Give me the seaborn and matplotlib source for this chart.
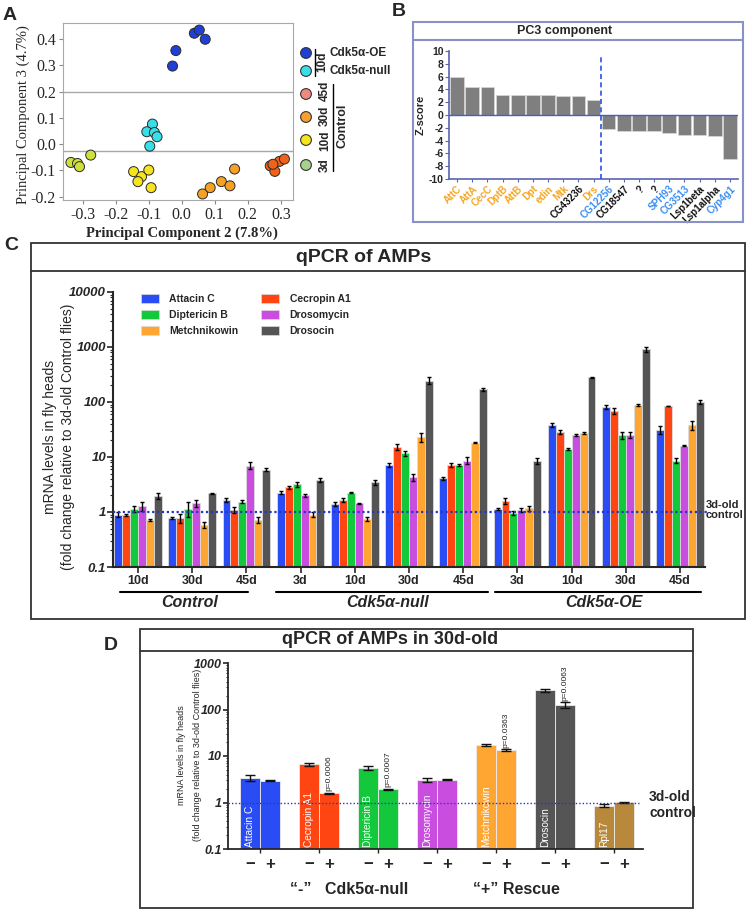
import numpy as np
import pandas as pd
import matplotlib
matplotlib.use("Agg")
import matplotlib.pyplot as plt
from matplotlib.patches import Rectangle, Patch
import seaborn as sns

#Data####################################################################################

#A: PCA scores per sample
pca_group = (["Cdk5α-OE"] * 5 + ["Cdk5α-null"] * 5 + ["3d"] * 4 +
             ["10d"] * 5 + ["30d"] * 5 + ["45d"] * 5)
pc2 = [-0.028, -0.018, 0.038, 0.053, 0.071,
       -0.089, -0.106, -0.083, -0.075, -0.097,
       -0.336, -0.316, -0.310, -0.276,
       -0.146, -0.122, -0.100, -0.133, -0.093,
       0.063, 0.086, 0.120, 0.146, 0.160,
       0.268, 0.282, 0.296, 0.311, 0.276]
pc3 = [0.297, 0.356, 0.422, 0.434, 0.399,
       0.076, 0.047, 0.044, 0.028, -0.008,
       -0.070, -0.074, -0.086, -0.042,
       -0.105, -0.124, -0.099, -0.143, -0.166,
       -0.190, -0.166, -0.143, -0.159, -0.095,
       -0.083, -0.104, -0.066, -0.057, -0.077]
pca_xticks = [-0.3, -0.2, -0.1, 0.0, 0.1, 0.2, 0.3]
pca_yticks = [-0.2, -0.1, 0.0, 0.1, 0.2, 0.3, 0.4]
pca_legend_labels = ["45d", "30d", "10d", "3d"]

#B: PC3 loadings
pc3_genes = ["AttC", "AttA", "CecC", "DptB", "AttB", "Dpt", "edin", "Mtk", "CG43236", "Drs",
             "CG12256", "CG18547", "?", "?", "SPH93", "CG3513", "Lsp1beta", "Lsp1alpha", "Cyp4g1"]
pc3_z = [6.0, 4.3, 4.3, 3.2, 3.1, 3.1, 3.1, 3.0, 2.9, 2.4,
         -2.2, -2.5, -2.55, -2.55, -2.8, -3.05, -3.1, -3.3, -6.95]
pc3_kind = ["amp"] * 8 + ["other", "amp", "blue", "other", "other", "other",
                          "blue", "blue", "other", "other", "blue"]

#C: qPCR of AMPs, fold change
c_conditions = ["Control 10d", "Control 30d", "Control 45d",
                "null 3d", "null 10d", "null 30d", "null 45d",
                "OE 3d", "OE 10d", "OE 30d", "OE 45d"]
c_ticklabels = ["10d", "30d", "45d", "3d", "10d", "30d", "45d", "3d", "10d", "30d", "45d"]
c_groups = ["Control", "Cdk5α-null", "Cdk5α-OE"]
amp_genes = ["Attacin C", "Cecropin A1", "Diptericin B", "Drosomycin", "Metchnikowin", "Drosocin"]
attacin_c = [0.9, 0.78, 1.65, 2.25, 1.4, 7.2, 4.1, 1.13, 38, 82, 31]
cecropin_a1 = [0.87, 0.78, 1.1, 2.8, 1.65, 15.4, 7.2, 1.6, 28.8, 69, 84.5]
diptericin_b = [1.15, 1.15, 1.55, 3.2, 2.25, 11.7, 7.3, 0.97, 14, 25, 8.6]
drosomycin = [1.3, 1.45, 7.0, 2.0, 1.45, 4.3, 8.6, 1.1, 25, 25.5, 16]
metchnikowin = [0.72, 0.59, 0.72, 0.9, 0.75, 22.8, 18.2, 1.18, 27.5, 87, 38]
drosocin = [1.95, 2.2, 5.9, 3.8, 3.5, 244, 170, 8.6, 280, 908, 101]
attacin_c_err = [0.1, 0.02, 0.15, 0.15, 0.1, 0.5, 0.3, 0.03, 3, 8, 5]
cecropin_a1_err = [0.04, 0.15, 0.15, 0.2, 0.15, 1.8, 0.6, 0.2, 2.5, 8, 1]
diptericin_b_err = [0.15, 0.35, 0.12, 0.35, 0.05, 1.2, 0.3, 0.08, 0.5, 4, 0.8]
drosomycin_err = [0.25, 0.2, 1.0, 0.15, 0.03, 0.7, 1.2, 0.1, 1, 3, 0.4]
metchnikowin_err = [0.02, 0.07, 0.1, 0.08, 0.05, 4, 0.6, 0.12, 1, 4, 7]
drosocin_err = [0.25, 0.05, 0.35, 0.35, 0.35, 35, 12, 1.0, 8, 80, 10]

#D: 30d-old null vs rescue
d_genes = ["Attacin C", "Cecropin A1", "Diptericin B", "Drosomycin", "Metchnikowin", "Drosocin", "Rpl17"]
d_conditions = ["null", "rescue"]
d_signs = ["−", "+"]
d_null = [3.4, 6.6, 5.6, 3.05, 17.3, 262, 0.85]
d_rescue = [2.95, 1.58, 1.95, 3.1, 13.5, 125, 1.01]
d_null_err = [0.45, 0.6, 0.5, 0.35, 1.2, 20, 0.06]
d_rescue_err = [0.08, 0.05, 0.05, 0.05, 0.4, 18, 0.02]
d_pvalues = ["", "p=0.0006", "p=0.0007", "", "p=0.0363", "p=0.0063", ""]

#Colours#################################################################################
pca_colors = {"Cdk5α-OE": "#1f3fd6", "Cdk5α-null": "#38dfe8", "3d": "#cfe03a",
              "10d": "#f6e41f", "30d": "#f5a224", "45d": "#f0621a"}
pca_legend_colors = ["#1f3fd6", "#38dfe8", "#f08a80", "#f5a030", "#f6e41f", "#a9d18e"]
amp_colors = ["#2a4cf5", "#ff4512", "#14c83c", "#c94ee0", "#ffa531", "#555555"]
d_colors = amp_colors[:4] + ["#ffa531", "#555555", "#b8893a"]
kind_colors = {"amp": "#f5a623", "other": "#111111", "blue": "#3a8ef0"}

#Figure setup#############################################################################
sns.set_style("ticks")
plt.rcParams["font.family"] = ["Liberation Sans", "DejaVu Sans"]
plt.rcParams["axes.unicode_minus"] = False

W, H = 750, 913
fig = plt.figure(figsize=(W / 100, H / 100), dpi=100)

def box(l, t, r, b):
    #pixel box -> figure fraction rect
    return [l / W, 1 - b / H, (r - l) / W, (b - t) / H]

#Panel A###################################################################################
axA = fig.add_axes(box(63, 23, 293, 200))
pca_df = pd.DataFrame({"pc2": pc2, "pc3": pc3, "group": pca_group})
sns.scatterplot(data=pca_df, x="pc2", y="pc3", hue="group", palette=pca_colors, s=52,
                edgecolor="#2b2b2b", linewidth=0.7, legend=False, ax=axA, zorder=3)
axA.axhline(0.2, color="#a8a8a8", lw=1, zorder=1)
axA.axhline(-0.025, color="#a8a8a8", lw=1, zorder=1)
axA.set_xlim(-0.36, 0.337)
axA.set_ylim(-0.213, 0.461)
axA.set_xticks(pca_xticks)
axA.set_xticklabels([f"{v:.1f}" for v in pca_xticks])
axA.set_yticks(pca_yticks)
axA.set_yticklabels([f"{v:.1f}" for v in pca_yticks])
axA.tick_params(labelsize=11.5, labelfontfamily="Liberation Serif", color="#888888", length=3, pad=2)
axA.set_xlabel("")
axA.set_ylabel("")
for s in axA.spines.values():
    s.set_color("#a8a8a8")

#Panel B###################################################################################
axB = fig.add_axes(box(449, 51, 738, 179))
sns.barplot(x=list(range(len(pc3_genes))), y=pc3_z, color="#7f7f7f", saturation=1,
            width=0.9, edgecolor="#d8d8d8", linewidth=0.5, ax=axB, zorder=2)
axB.axhline(0, color="#4060c8", lw=1, zorder=3)
axB.plot([9.5, 9.5], [-10, 9.5], color="#2a50e8", lw=1.2, ls=(0, (3, 2)), zorder=4)
axB.set_xlim(-0.53, len(pc3_genes) - 0.47)
axB.set_ylim(-10, 10)
axB.set_yticks(range(-10, 11, 2))
axB.set_xticks(range(len(pc3_genes)))
axB.set_xticklabels(pc3_genes, rotation=45, ha="right", rotation_mode="anchor",
                    fontsize=7, fontweight="bold")
for lbl, k in zip(axB.get_xticklabels(), pc3_kind):
    lbl.set_color(kind_colors[k])
for lbl in axB.get_yticklabels():
    lbl.set_fontweight("bold")
axB.tick_params(axis="y", labelsize=7.5, color="#5a64b0", length=3, pad=1)
axB.tick_params(axis="x", color="#5a64b0", length=2.5, pad=1)
axB.set_ylabel("Z-score", fontsize=8, fontweight="bold", labelpad=2)
sns.despine(ax=axB)
for s in ["left", "bottom"]:
    axB.spines[s].set_color("#5a64b0")
    axB.spines[s].set_linewidth(1.2)

#Panel C###################################################################################
axC = fig.add_axes(box(113, 292, 705, 567))
c_values = [attacin_c, cecropin_a1, diptericin_b, drosomycin, metchnikowin, drosocin]
c_errors = [attacin_c_err, cecropin_a1_err, diptericin_b_err, drosomycin_err, metchnikowin_err, drosocin_err]
c_rows = []
for g, vals in zip(amp_genes, c_values):
    for cond, v in zip(c_conditions, vals):
        c_rows.append((cond, g, v))
c_df = pd.DataFrame(c_rows, columns=["cond", "gene", "val"])
axC.set_yscale("log")
sns.barplot(data=c_df, x="cond", y="val", hue="gene", order=c_conditions, hue_order=amp_genes,
            palette=amp_colors, saturation=1, width=0.88, errorbar=None, legend=False,
            edgecolor="#dcdcdc", linewidth=0.6, ax=axC)
for cont, vals, errs in zip(axC.containers, c_values, c_errors):
    xs = [p.get_x() + p.get_width() / 2 for p in cont]
    axC.errorbar(xs, vals, yerr=errs, fmt="none", ecolor="black", elinewidth=1,
                 capsize=1.5, capthick=1, zorder=5)
axC.axhline(1, xmin=0, xmax=1.006, color="#2536c0", lw=1.6, ls=(0, (1, 1.2)), clip_on=False, zorder=6)
axC.set_ylim(0.1, 10000)
axC.set_xlim(-0.46, len(c_conditions) - 0.54)
axC.set_yticks([0.1, 1, 10, 100, 1000, 10000])
axC.set_yticklabels(["0.1", "1", "10", "100", "1000", "10000"])
axC.set_xticks(range(len(c_conditions)))
axC.set_xticklabels(c_ticklabels)
for lbl in axC.get_yticklabels():
    lbl.set_fontweight("bold")
    lbl.set_fontstyle("italic")
for lbl in axC.get_xticklabels():
    lbl.set_fontweight("bold")
axC.tick_params(axis="y", which="major", labelsize=9.5, length=4, width=1.2, pad=1)
axC.tick_params(axis="y", which="minor", length=2, width=0.8)
axC.tick_params(axis="x", labelsize=9, length=4, width=1.2, pad=2)
axC.set_xlabel("")
axC.set_ylabel("")
sns.despine(ax=axC)
for s in ["left", "bottom"]:
    axC.spines[s].set_linewidth(1.5)
handles = [Patch(facecolor=c, edgecolor="#dcdcdc", lw=0.5) for c in amp_colors]
order = [0, 2, 4, 1, 3, 5]
axC.legend([handles[i] for i in order], [amp_genes[i] for i in order], ncol=2, loc="upper left",
           bbox_to_anchor=(0.039, 1.012), frameon=False, handlelength=1.7, handleheight=1.0,
           borderpad=0, labelspacing=0.55, columnspacing=2.2, handletextpad=1.0,
           prop={"size": 7.5, "weight": "bold"})
trans = axC.get_xaxis_transform()
c_group_spans = [(-0.33, 2.03), (2.55, 6.46), (6.59, 10.39)]
for name, (a, b) in zip(c_groups, c_group_spans):
    axC.plot([a, b], [-0.091, -0.091], color="black", lw=1.5, transform=trans, clip_on=False)
    axC.text((a + b) / 2 + 0.1, -0.13, name, transform=trans, ha="center", va="center",
             fontsize=11.5, fontweight="bold", fontstyle="italic")

#Panel D###################################################################################
axD = fig.add_axes(box(228, 663, 643, 849))
d_rows = []
for cond, vals in zip(d_conditions, [d_null, d_rescue]):
    for g, v in zip(d_genes, vals):
        d_rows.append((g, cond, v))
d_df = pd.DataFrame(d_rows, columns=["gene", "cond", "val"])
axD.set_yscale("log")
sns.barplot(data=d_df, x="gene", y="val", hue="cond", order=d_genes, hue_order=d_conditions,
            palette=["#888888", "#888888"], saturation=1, width=0.68, gap=0, errorbar=None,
            legend=False, edgecolor="#ececec", linewidth=0.6, ax=axD)
dtrans = axD.get_xaxis_transform()
for ci, (cont, vals, errs) in enumerate(zip(axD.containers, [d_null, d_rescue], [d_null_err, d_rescue_err])):
    xs = []
    for p, col in zip(cont, d_colors):
        p.set_facecolor(col)
        xs.append(p.get_x() + p.get_width() / 2)
    axD.errorbar(xs, vals, yerr=errs, fmt="none", ecolor="#111111", elinewidth=1,
                 capsize=3.5, capthick=1, zorder=5)
    for x in xs:
        axD.text(x, -0.085, d_signs[ci], transform=dtrans, ha="center", va="center",
                 fontsize=12, fontweight="bold")
    if ci == 0:
        for x, g in zip(xs, d_genes):
            axD.text(x, 0.108, g, rotation=90, ha="center", va="bottom", color="white", fontsize=7.3)
    else:
        for x, v, e, p in zip(xs, vals, errs, d_pvalues):
            if p:
                axD.text(x, (v + e) * 1.08, p, rotation=90, ha="center", va="bottom",
                         fontsize=6, color="#222222")
axD.axhline(1, xmin=0, xmax=0.99, color="#2536c0", lw=1, ls=(0, (1, 1.5)), zorder=6)
axD.set_ylim(0.1, 1000)
axD.set_xlim(-0.54, len(d_genes) - 0.51)
axD.set_yticks([0.1, 1, 10, 100, 1000])
axD.set_yticklabels(["0.1", "1", "10", "100", "1000"])
axD.set_xticks(range(len(d_genes)))
axD.set_xticklabels([])
for lbl in axD.get_yticklabels():
    lbl.set_fontweight("bold")
    lbl.set_fontstyle("italic")
axD.tick_params(axis="y", which="major", labelsize=9, length=3.5, width=1.2, pad=1)
axD.tick_params(axis="y", which="minor", length=1.8, width=0.7)
axD.tick_params(axis="x", length=3, width=1)
axD.set_xlabel("")
axD.set_ylabel("")
sns.despine(ax=axD)
for s in ["left", "bottom"]:
    axD.spines[s].set_linewidth(1.3)

#Overlay: boxes, letters, legends###########################################################
ov = fig.add_axes([0, 0, 1, 1])
ov.set_xlim(0, W)
ov.set_ylim(H, 0)
ov.axis("off")

for letter, (x, y) in zip("ABCD", [(10, 15), (399, 12), (11, 245), (111, 645)]):
    ov.text(x, y, letter, fontsize=14, fontweight="bold", ha="center", va="center")

#A legend and axis labels
ov.text(23, 115, "Principal Component 3 (4.7%)", rotation=90, ha="center", va="center",
        fontsize=10.5, family="Liberation Serif")
ov.text(182, 233, "Principal Component 2 (7.8%)", ha="center", va="center",
        fontsize=10.5, fontweight="bold", family="Liberation Serif")
ov.scatter([306] * 6, [53, 71, 94, 117, 140, 165], s=60, c=pca_legend_colors,
           edgecolors="#333333", linewidths=0.8)
ov.plot([315, 315], [49, 76], color="black", lw=1)
ov.text(322, 62, "10d", rotation=90, ha="center", va="center", fontsize=8.5, fontweight="bold")
ov.text(330, 53, "Cdk5α-OE", ha="left", va="center", fontsize=8.5, fontweight="bold")
ov.text(330, 71, "Cdk5α-null", ha="left", va="center", fontsize=8.5, fontweight="bold")
for lab, y in zip(pca_legend_labels, [91, 116, 141, 165]):
    ov.text(325, y, lab, rotation=90, ha="center", va="center", fontsize=8.5, fontweight="bold")
ov.plot([333, 333], [84, 171], color="black", lw=1)
ov.text(342, 126, "Control", rotation=90, ha="center", va="center", fontsize=9, fontweight="bold")

#B box
ov.add_patch(Rectangle((413, 22), 330, 200, fill=False, ec="#8a90c8", lw=1.5))
ov.plot([413, 743], [40, 40], color="#8a90c8", lw=1.5)
ov.text(565, 31, "PC3 component", ha="center", va="center", fontsize=9, fontweight="bold")

#C box
ov.add_patch(Rectangle((31, 243), 714, 376, fill=False, ec="#333333", lw=1.3))
ov.plot([31, 745], [271, 271], color="#333333", lw=1.3)
ov.text(364, 257, "qPCR of AMPs", ha="center", va="center", fontsize=14, fontweight="bold")
ov.text(59, 437, "mRNA levels in fly heads\n(fold change relative to 3d-old Control flies)",
        rotation=90, ha="center", va="center", multialignment="center", fontsize=10, linespacing=1.35)
ov.text(706, 510, "3d-old\ncontrol", ha="left", va="center", fontsize=8, fontweight="bold", linespacing=1.1)

#D box
ov.add_patch(Rectangle((140, 629), 553, 279, fill=False, ec="#333333", lw=1.3))
ov.plot([140, 693], [651, 651], color="#333333", lw=1.3)
ov.text(390, 640, "qPCR of AMPs in 30d-old", ha="center", va="center", fontsize=13, fontweight="bold")
ov.text(181, 755, "mRNA levels in fly heads", rotation=90, ha="center", va="center", fontsize=6.5)
ov.text(197, 755, "(fold change relative to 3d-old Control flies)", rotation=90,
        ha="center", va="center", fontsize=6.5)
ov.text(649, 805, "3d-old\ncontrol", ha="left", va="center", fontsize=10, fontweight="bold", linespacing=1.2)
ov.text(290, 890, "“-”   Cdk5α-null", ha="left", va="center", fontsize=11.5, fontweight="bold")
ov.text(473, 890, "“+” Rescue", ha="left", va="center", fontsize=11.5, fontweight="bold")

fig.savefig("out.png", dpi=100)
